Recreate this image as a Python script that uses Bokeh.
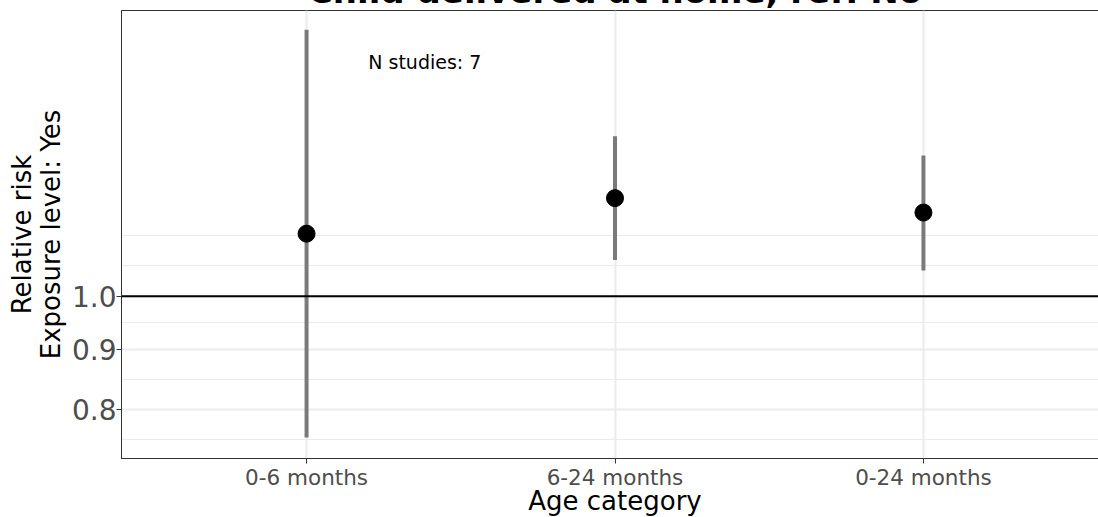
from bokeh.plotting import figure
from bokeh.models import (Range1d, FixedTicker, Span, Label, ColumnDataSource,
                          CustomJSTickFormatter)
from bokeh.embed import file_html
from bokeh.resources import INLINE

# ---- data ----
title_text = "Child delivered at home, ref: No"
categories = ["0-6 months", "6-24 months", "0-24 months"]
relative_risk = [1.131, 1.213, 1.179]
ci_lower = [0.757, 1.074, 1.052]
ci_upper = [1.690, 1.370, 1.319]
n_studies = 7
y_tick_values = [0.8, 0.9, 1.0]
y_minor_values = [0.754, 0.849, 0.950, 1.063, 1.128]
x_title = "Age category"
y_title = "Relative risk\nExposure level: Yes"

FONT = "DejaVu Sans"
positions = list(range(1, len(categories) + 1))

src = ColumnDataSource(dict(x=positions, rr=relative_risk, lo=ci_lower, hi=ci_upper,
                            cat=categories))

p = figure(width=1104, height=550,
           x_range=Range1d(0.4, 3.6), y_range=Range1d(0.7262, 1.7556),
           y_axis_type="log", output_backend="svg", toolbar_location=None,
           min_border=0, min_border_left=0, min_border_right=0, min_border_top=0,
           min_border_bottom=0,
           background_fill_color="white", border_fill_color="white")
p.styles = {"margin-top": "-32px", "margin-bottom": "-40px",
            "margin-left": "4px", "margin-right": "-40px"}

# title
p.title.text = title_text
p.title.text_font = FONT
p.title.text_font_size = "34px"
p.title.text_font_style = "bold"
p.title.align = "center"
p.title.standoff = 0
p.title.text_color = "black"

# outline
p.outline_line_color = "#333333"
p.outline_line_width = 1

# x axis
p.xaxis.ticker = FixedTicker(ticks=positions)
p.xaxis.formatter = CustomJSTickFormatter(args=dict(labels=categories),
                                          code="return labels[Math.round(tick) - 1];")
p.xaxis.major_label_text_font = FONT
p.xaxis.major_label_text_font_size = "21.5px"
p.xaxis.major_label_text_color = "#4D4D4D"
p.xaxis.major_label_standoff = 1
p.xaxis.axis_label = x_title
p.xaxis.axis_label_text_font = FONT
p.xaxis.axis_label_text_font_size = "26px"
p.xaxis.axis_label_text_font_style = "normal"
p.xaxis.axis_label_text_color = "black"
p.xaxis.axis_label_standoff = -7

# y axis
p.yaxis.ticker = FixedTicker(ticks=y_tick_values, minor_ticks=y_minor_values)
p.yaxis.formatter = CustomJSTickFormatter(code="return tick.toFixed(1);")
p.yaxis.major_label_text_font = FONT
p.yaxis.major_label_text_font_size = "28px"
p.yaxis.major_label_text_color = "#4D4D4D"
p.yaxis.major_label_standoff = 0
p.yaxis.axis_label = y_title
p.yaxis.axis_label_text_font = FONT
p.yaxis.axis_label_text_font_size = "26px"
p.yaxis.axis_label_text_font_style = "normal"
p.yaxis.axis_label_text_color = "black"
p.yaxis.axis_label_text_line_height = 0.95
p.yaxis.axis_label_standoff = 3

for ax in (p.xaxis, p.yaxis):
    ax.axis_line_color = "#333333"
    ax.major_tick_line_color = "#333333"
    ax.major_tick_in = 0
    ax.major_tick_out = 5
    ax.minor_tick_line_color = None

# grid
p.xgrid.ticker = FixedTicker(ticks=positions)
p.xgrid.grid_line_color = "#EBEBEB"
p.xgrid.grid_line_width = 2
p.ygrid.grid_line_color = "#EBEBEB"
p.ygrid.grid_line_width = 2
p.ygrid.minor_grid_line_color = "#EBEBEB"
p.ygrid.minor_grid_line_width = 1

# reference line at 1
p.add_layout(Span(location=1.0, dimension="width", line_color="black", line_width=2))

# CI bars and points
p.segment(x0="x", y0="lo", x1="x", y1="hi", source=src, line_color="#7A7A7A", line_width=4)
p.scatter(x="x", y="rr", source=src, size=17, fill_color="black", line_color="black")

p.add_layout(Label(x=1.2, y=1.587, text=f"N studies: {n_studies}", text_font=FONT,
                   text_font_size="19px", text_align="left", text_baseline="middle",
                   text_color="black"))

open("out.html", "w").write(file_html(p, INLINE))
